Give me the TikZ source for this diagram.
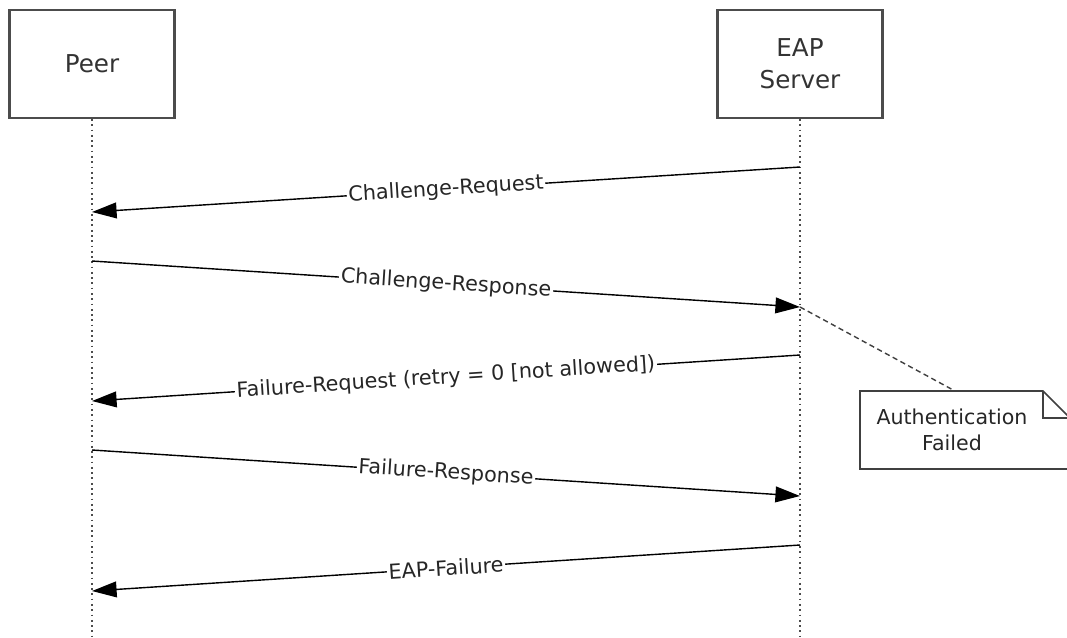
\documentclass[tikz,border=0pt]{standalone}
\usepackage{fontspec}
\setmainfont{DejaVu Sans}
\usetikzlibrary{arrows.meta}

\begin{document}
\begin{tikzpicture}[x=0.02cm,y=-0.02cm,
    actor/.style={draw=black!70,line width=1.2pt,minimum width=165*0.02cm,minimum height=108*0.02cm,
        align=center,font=\fontsize{14pt}{18pt}\selectfont,text=black!80},
    lifeline/.style={draw=black!70,line width=1pt,dotted},
    msg/.style={line width=0.8pt,-{Triangle[length=14pt,width=9pt]}},
    msglabel/.style={midway,sloped,fill=white,inner sep=1pt,font=\fontsize{11.8pt}{14pt}\selectfont,text=black!85},
    notelink/.style={draw=black!75,line width=0.8pt,densely dashed}]
    \useasboundingbox (0,0) rectangle (1067,637);
    \clip (0,0) rectangle (1067,637);
    % the two participants
    \node[actor] (peer) at (92,64) {Peer};
    \node[actor] (server) at (800,64) {EAP\\Server};
    \coordinate (peerend) at (92,640);
    \coordinate (serverend) at (800,640);
    \draw[lifeline] (peer.south) -- (peerend);
    \draw[lifeline] (server.south) -- (serverend);
    % points on the lifelines
    \foreach \n/\ys/\yp in {1/167/212,2/307/261,3/355/401,4/496/450,5/545/591}{
        \coordinate (s\n) at (800,\ys);
        \coordinate (p\n) at (92,\yp);
    }
    % messages
    \draw[msg] (s1) -- (p1) node[msglabel] {Challenge-Request};
    \draw[msg] (p2) -- (s2) node[msglabel] {Challenge-Response};
    \draw[msg] (s3) -- (p3) node[msglabel] {Failure-Request (retry = 0 [not allowed])};
    \draw[msg] (p4) -- (s4) node[msglabel] {Failure-Response};
    \draw[msg] (s5) -- (p5) node[msglabel] {EAP-Failure};
    % note
    \draw[draw=black!75,line width=0.9pt,fill=white] (860,391) -- (1043,391) -- (1070,418) -- (1070,469) -- (860,469) -- cycle;
    \draw[draw=black!75,line width=0.9pt] (1043,391) -- (1043,418) -- (1070,418);
    \node[align=center,font=\fontsize{11.7pt}{15pt}\selectfont,text=black!85] (authfail) at (952,430) {Authentication\\Failed};
    \coordinate (notetop) at (955,391);
    \draw[notelink] (s2) -- (notetop);
\end{tikzpicture}
\end{document}
